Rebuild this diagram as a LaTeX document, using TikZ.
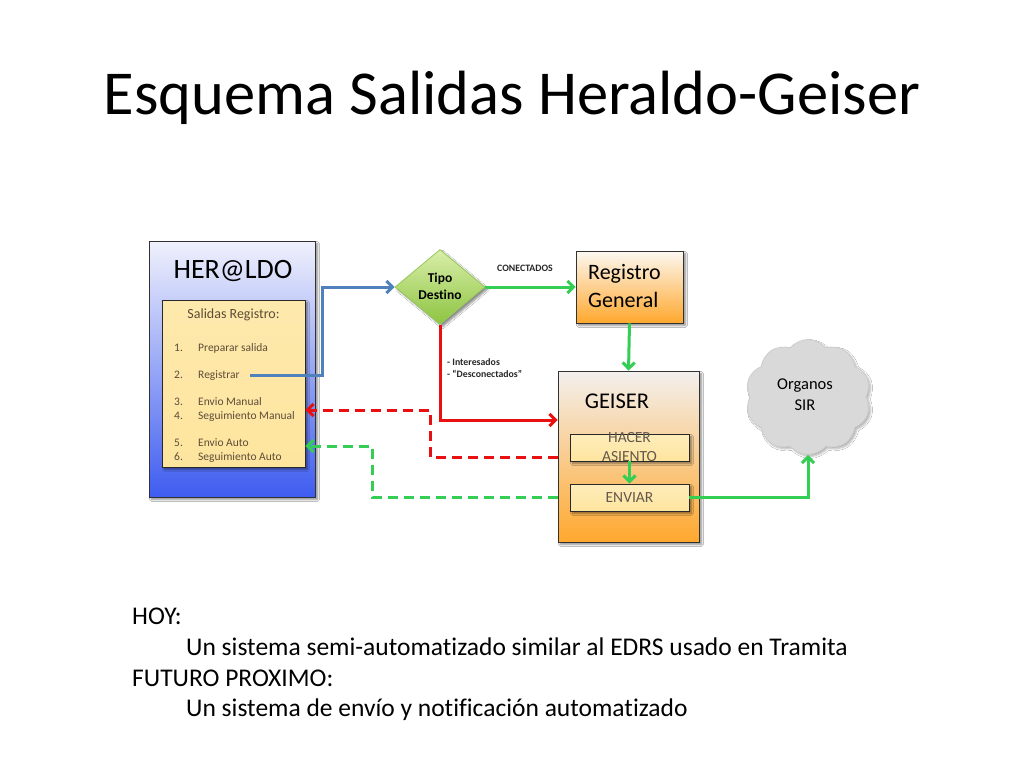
\documentclass[tikz,border=0pt]{standalone}
\usepackage{fontspec}
\setmainfont{Carlito}[Ligatures=NoCommon]
\usetikzlibrary{shapes.geometric,shapes.symbols,arrows.meta,shadows.blur}
\definecolor{arrowgreen}{RGB}{52,206,84}
\definecolor{arrowred}{RGB}{232,16,16}
\definecolor{lineblue}{RGB}{79,129,189}
\definecolor{itemtxt}{RGB}{92,76,56}
\definecolor{boxyellow}{RGB}{254,229,158}
\definecolor{boxorange}{RGB}{255,168,46}
\definecolor{boxblue}{RGB}{62,92,240}
\tikzset{
  shade/.style={blur shadow={shadow xshift=2.5pt,shadow yshift=-2.5pt,shadow blur steps=6,shadow opacity=45}},
  bigbox/.style={rectangle,draw={rgb,255:red,50;green,50;blue,50},line width=0.8pt,inner sep=0pt,shade},
  smallbox/.style={rectangle,draw={rgb,255:red,40;green,40;blue,40},line width=0.8pt,inner sep=0pt,
    top color=boxyellow!70!white,bottom color=boxyellow,shade},
  tip/.style={-{Straight Barb[length=6pt,width=12pt]}},
  gline/.style={draw=arrowgreen,line width=3pt,tip},
  rline/.style={draw=arrowred,line width=3pt,tip},
  rdash/.style={rline,dash pattern=on 10pt off 6pt},
  gdash/.style={gline,dash pattern=on 10pt off 6pt},
  item/.style={anchor=base west,font=\fontsize{11.5}{13}\selectfont,text=itemtxt,inner sep=0pt},
  label/.style={font=\fontsize{9.8}{12}\selectfont\bfseries,text={rgb,255:red,40;green,40;blue,40},inner sep=0pt},
  body/.style={anchor=west,font=\fontsize{25.5}{30}\selectfont,inner sep=0pt},
}
\begin{document}
\begin{tikzpicture}[x=1pt,y=-1pt]
\useasboundingbox[fill=white] (0,0) rectangle (1024,768);
% title
\node[font=\fontsize{62.5}{70}\selectfont,inner sep=0pt] (title) at (512,98) {Esquema Salidas Heraldo-Geiser};
% HER@LDO
\node[bigbox,minimum width=166pt,minimum height=256pt,
  top color={rgb,255:red,240;green,241;blue,252},middle color={rgb,255:red,180;green,192;blue,246},bottom color=boxblue] (her) at (232,369) {};
\node[font=\fontsize{28}{32}\selectfont,inner sep=0pt] (hert) at (233,271) {HER@LDO};
\node[smallbox,minimum width=143pt,minimum height=167pt,top color=boxyellow!85!white,bottom color=boxyellow] (sal) at (233.5,383.5) {};
\node[font=\fontsize{14}{16}\selectfont,text=itemtxt,inner sep=0pt] (salt) at (233.5,315) {Salidas Registro:};
\node[item] (n1) at (174,351) {1.}; \node[item] (i1) at (198,351) {Preparar salida};
\node[item] (n2) at (174,378) {2.}; \node[item] (i2) at (198,378) {Registrar};
\node[item] (n3) at (174,405) {3.}; \node[item] (i3) at (198,405) {Envio Manual};
\node[item] (n4) at (174,419) {4.}; \node[item] (i4) at (198,419) {Seguimiento Manual};
\node[item] (n5) at (174,446) {5.}; \node[item] (i5) at (198,446) {Envio Auto};
\node[item] (n6) at (174,460) {6.}; \node[item] (i6) at (198,460) {Seguimiento Auto};
% diamond
\node[diamond,draw={rgb,255:red,150;green,200;blue,90},line width=0.8pt,inner sep=0pt,aspect=1.2,
  minimum width=90pt,minimum height=75pt,
  top color={rgb,255:red,218;green,238;blue,170},bottom color={rgb,255:red,140;green,196;blue,64},shade] (dst) at (440,287) {};
\node[font=\fontsize{13.5}{17}\selectfont\bfseries,align=center,inner sep=0pt] (dstt) at (440,286) {Tipo\\Destino};
% Registro General
\node[bigbox,minimum width=107pt,minimum height=72pt,
  top color={rgb,255:red,252;green,248;blue,242},middle color={rgb,255:red,253;green,222;blue,170},bottom color=boxorange] (reg) at (629.5,287) {};
\node[anchor=west,align=left,font=\fontsize{22}{28}\selectfont,inner sep=0pt] (regt) at (588,286) {Registro\\General};
% GEISER
\node[bigbox,minimum width=141pt,minimum height=171pt,
  top color={rgb,255:red,243;green,240;blue,238},middle color={rgb,255:red,250;green,212;blue,160},bottom color=boxorange] (gei) at (628.5,456.5) {};
\node[font=\fontsize{22.5}{26}\selectfont,inner sep=0pt] (geit) at (617,401) {GEISER};
\node[smallbox,minimum width=119pt,minimum height=27pt] (has) at (629.5,447.5) {};
\node[font=\fontsize{15.5}{19}\selectfont,align=center,text={rgb,255:red,100;green,88;blue,76},inner sep=0pt] (hast) at (629.5,447.5) {HACER\\ASIENTO};
\node[smallbox,minimum width=119pt,minimum height=27pt] (env) at (629.5,497.5) {};
\node[font=\fontsize{15.5}{18}\selectfont,text={rgb,255:red,100;green,88;blue,76},inner sep=0pt] (envt) at (629.5,497.5) {ENVIAR};
% cloud
\node[cloud,cloud puffs=10,cloud puff arc=100,aspect=1.05,draw={rgb,255:red,205;green,205;blue,205},line width=0.8pt,
  fill={rgb,255:red,217;green,217;blue,217},minimum width=125pt,minimum height=115pt,inner sep=0pt,
  blur shadow={shadow xshift=2pt,shadow yshift=-2pt,shadow blur steps=6,shadow opacity=30}] (cld) at (808,397) {};
\node[font=\fontsize{16.5}{21}\selectfont,align=center,inner sep=0pt] (cldt) at (805,395) {Organos\\SIR};
% connectors
\coordinate (regstart) at (250,375);
\draw[draw=lineblue,line width=3pt,tip] (regstart) -- (322,375) |- (dst.west);
\draw[gline] (dst.east) -- (reg.west);
\node[label] (con) at (525,268) {CONECTADOS};
\draw[gline] (reg.south) -- (gei.north);
\draw[gline] (has.south) -- (env.north);
\draw[gline] (env.east) -| (cld.south);
\draw[rline] (dst.south) |- (gei.west |- 0,420);
\node[label,anchor=west,align=left] (des) at (447,368) {- Interesados\\- “Desconectados”};
\draw[rdash] (gei.west |- 0,457) -| (430,410) -- (sal.east |- 0,410);
\draw[gdash] (gei.west |- 0,497) -| (372,446) -- (sal.east |- 0,446);
% body text
\node[body] (b1) at (132,616) {HOY:};
\node[body] (b2) at (186,647) {Un sistema semi-automatizado similar al EDRS usado en Tramita};
\node[body] (b3) at (132,678) {FUTURO PROXIMO:};
\node[body] (b4) at (186,710) {Un sistema de envío y notificación automatizado};
\end{tikzpicture}
\end{document}
